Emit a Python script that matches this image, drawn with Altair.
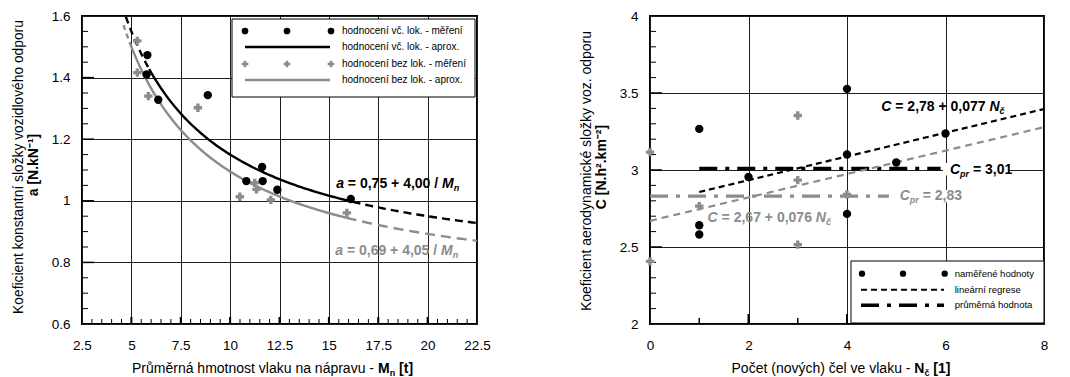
import altair as alt
import numpy as np
import pandas as pd

# ---------------- data: left panel ----------------
lok_mn = [5.81, 5.77, 6.36, 8.87, 10.82, 11.62, 11.65, 12.39, 16.11]
lok_a = [1.473, 1.410, 1.328, 1.343, 1.064, 1.110, 1.064, 1.036, 1.006]
bez_mn = [5.30, 5.30, 5.86, 8.37, 10.49, 11.25, 11.33, 12.06, 15.91]
bez_a = [1.519, 1.416, 1.340, 1.302, 1.013, 1.058, 1.037, 1.003, 0.961]
fit_lok = [0.75, 4.00]          # a = c0 + c1 / Mn
fit_bez = [0.69, 4.05]
lok_range = [4.72, 5.9, 16.2, 22.5]   # dashed | solid | dashed
bez_range = [4.60, 5.0, 15.9, 22.5]
left_x_ticks = [2.5, 5, 7.5, 10, 12.5, 15, 17.5, 20, 22.5]
left_y_ticks = [0.6, 0.8, 1.0, 1.2, 1.4, 1.6]
left_legend = ["hodnocení vč. lok. - měření", "hodnocení vč. lok. - aprox.",
               "hodnocení bez lok. - měření", "hodnocení bez lok. - aprox."]

# ---------------- data: right panel ----------------
nc_lok = [1, 1, 1, 2, 4, 4, 4, 5, 6]
c_lok = [3.267, 2.641, 2.581, 2.955, 3.527, 3.101, 2.715, 3.049, 3.237]
nc_bez = [0, 0, 1, 3, 3, 3, 4]
c_bez = [3.116, 2.407, 2.765, 3.354, 2.934, 2.515, 2.841]
reg_lok = [2.78, 0.077]          # C = c0 + c1 * Nc
reg_bez = [2.67, 0.076]
reg_lok_range = [1, 8]
reg_bez_range = [0, 8]
mean_lok = 3.01
mean_bez = 2.83
mean_lok_range = [1, 5.9]
mean_bez_range = [0, 4.85]
right_x_ticks = [0, 2, 4, 6, 8]
right_y_ticks = [2, 2.5, 3, 3.5, 4]
right_legend = ["naměřené hodnoty", "lineární regrese", "průměrná hodnota"]

# ---------------- styling ----------------
BLACK = "#000000"
GRAY = "#8c8c8c"
GRID = "#1e1e1e"
FONT = "Liberation Sans"
LW, LH = 395, 308
RW, RH = 394, 308
one = pd.DataFrame({"k": [0]})

W_REG = {" ": 278, ",": 278, ".": 278, "=": 584, "+": 584, "/": 278, "-": 333,
         "[": 278, "]": 278, "a": 556, "c": 500, "č": 500, "n": 556, "p": 556,
         "r": 333, "t": 278, "M": 833, "C": 722, "N": 722}
W_BOLD = {" ": 278, ",": 278, ".": 278, "=": 584, "+": 584, "/": 278, "-": 333,
          "[": 333, "]": 333, "a": 556, "c": 556, "č": 556, "n": 611, "p": 611,
          "r": 389, "t": 333, "M": 833, "C": 722, "N": 722}


def tw(s, size, bold):
    tbl = W_BOLD if bold else W_REG
    return sum(tbl.get(ch, 556) for ch in s) / 1000.0 * size


def axis(values, lp):
    return alt.Axis(values=values, format=".1~f", title=None, grid=True,
                    gridColor=GRID, gridWidth=1, ticks=False, tickSize=0,
                    domain=False, labelFont=FONT, labelFontSize=13.5,
                    labelColor=BLACK, labelPadding=lp, labelFlush=False,
                    labelOverlap=False)


class Panel:
    def __init__(self, xdom, ydom, xvals, yvals, H):
        self.xs = alt.Scale(domain=xdom, nice=False, zero=False)
        self.ys = alt.Scale(domain=ydom, nice=False, zero=False)
        self.xa = axis(xvals, 14)
        self.ya = axis(yvals, 12)
        self.H = H

    def X(self, f="x:Q"):
        return alt.X(f, scale=self.xs, axis=self.xa)

    def Y(self, f="y:Q"):
        return alt.Y(f, scale=self.ys, axis=self.ya)

    def XD(self, v):
        return alt.XDatum(v, scale=self.xs, axis=self.xa)

    def YD(self, v):
        return alt.YDatum(v, scale=self.ys, axis=self.ya)

    def pts(self, xv, yv, shape, color, size):
        df = pd.DataFrame({"x": xv, "y": yv})
        return alt.Chart(df).mark_point(shape=shape, filled=True, color=color,
                                        size=size, opacity=1, strokeWidth=0).encode(
            x=self.X(), y=self.Y())

    def line(self, df, color, width, dash=None):
        kw = dict(color=color, strokeWidth=width, clip=True)
        if dash:
            kw["strokeDash"] = dash
        return alt.Chart(df).mark_line(**kw).encode(x=self.X(), y=self.Y())

    def xticks(self, vals, length, width):
        df = pd.DataFrame({"x": vals})
        return alt.Chart(df).mark_rule(color=BLACK, strokeWidth=width).encode(
            x=self.X(), y=alt.value(self.H), y2=alt.value(self.H - length))

    def yticks(self, vals, length, width):
        df = pd.DataFrame({"y": vals})
        return alt.Chart(df).mark_rule(color=BLACK, strokeWidth=width).encode(
            y=self.Y(), x=alt.value(0), x2=alt.value(length))

    def bg(self, x1, x2, y1, y2):
        return alt.Chart(one).mark_rect(fill="white").encode(
            x=self.XD(x1), x2=alt.X2Datum(x2), y=self.YD(y1), y2=alt.Y2Datum(y2))


def rich(segs, x, y, anchor="left"):
    """segs: (text, size, bold, italic, dy, color)"""
    widths = [tw(t, s, b) for (t, s, b, it, dy, c) in segs]
    off = -sum(widths) if anchor == "right" else 0.0
    out = []
    for (t, s, b, it, dy, c), w in zip(segs, widths):
        lead = len(t) - len(t.lstrip(" "))
        txt = t.strip(" ")
        d = off + tw(" " * lead, s, b)
        out.append(
            alt.Chart(one).mark_text(
                text=txt, align="left", baseline="middle", dx=d, dy=dy,
                font=FONT, fontSize=s, fontWeight="bold" if b else "normal",
                fontStyle="italic" if it else "normal", color=c,
            ).encode(x=x, y=y)
        )
        off += w
    return out


def hyper(coef, x0, x1, n=80):
    m = np.linspace(x0, x1, n)
    return pd.DataFrame({"x": m, "y": coef[0] + coef[1] / m})


def linear(coef, x0, x1):
    m = np.array([x0, x1], dtype=float)
    return pd.DataFrame({"x": m, "y": coef[0] + coef[1] * m})


def vtext(txt, x, y, size, bold, angle=0, align="center", color=BLACK):
    return alt.Chart(one).mark_text(
        text=txt, angle=angle, align=align, baseline="middle", font=FONT,
        fontSize=size, fontWeight="bold" if bold else "normal", color=color,
    ).encode(x=alt.value(x), y=alt.value(y))


def vpoint(x, y, shape, color, size):
    return alt.Chart(one).mark_point(shape=shape, filled=True, color=color, size=size,
                                     opacity=1, strokeWidth=0).encode(
        x=alt.value(x), y=alt.value(y))


def vrule(x1, x2, y, color, width, dash=None):
    kw = dict(color=color, strokeWidth=width)
    if dash:
        kw["strokeDash"] = dash
    return alt.Chart(one).mark_rule(**kw).encode(
        x=alt.value(x1), x2=alt.value(x2), y=alt.value(y))


def vbox(x1, x2, y1, y2):
    return alt.Chart(one).mark_rect(fill="white", stroke=BLACK, strokeWidth=1).encode(
        x=alt.value(x1), x2=alt.value(x2), y=alt.value(y1), y2=alt.value(y2))


# ================= LEFT PANEL =================
L = Panel([2.5, 22.5], [0.6, 1.6], left_x_ticks, left_y_ticks, LH)

lx_minor = [float(v) for v in np.arange(3.0, 22.01, 0.5) if abs(v / 2.5 - round(v / 2.5)) > 1e-6]
lx_major = [5, 7.5, 10, 12.5, 15, 17.5, 20]
ly_minor = [round(float(v), 2) for v in np.arange(0.65, 1.6, 0.05) if abs(v / 0.2 - round(v / 0.2)) > 1e-6]
ly_major = [0.8, 1.0, 1.2, 1.4]

left_layers = [
    L.xticks(lx_minor, 5, 1),
    L.xticks(lx_major, 7, 2),
    L.yticks(ly_minor, 6, 1),
    L.yticks(ly_major, 12, 1.5),
    L.line(hyper(fit_bez, bez_range[0], bez_range[1]), GRAY, 2.4, [5, 4]),
    L.line(hyper(fit_bez, bez_range[1], bez_range[2]), GRAY, 2.4),
    L.line(hyper(fit_bez, bez_range[2], bez_range[3]), GRAY, 2.4, [10, 6]),
    L.line(hyper(fit_lok, lok_range[0], lok_range[1]), BLACK, 2.4, [7, 5]),
    L.line(hyper(fit_lok, lok_range[1], lok_range[2]), BLACK, 2.4),
    L.line(hyper(fit_lok, lok_range[2], lok_range[3]), BLACK, 2.4, [8, 5]),
    L.pts(bez_mn, bez_a, "cross", GRAY, 70),
    L.pts(lok_mn, lok_a, "circle", BLACK, 70),
    # legend
    vbox(150, 393, 3, 81),
    vpoint(163, 15, "circle", BLACK, 45), vpoint(205, 15, "circle", BLACK, 45),
    vpoint(249, 15, "circle", BLACK, 45),
    vrule(163, 248, 31, BLACK, 2.4),
    vpoint(163, 48, "cross", GRAY, 45), vpoint(205, 48, "cross", GRAY, 45),
    vpoint(249, 48, "cross", GRAY, 45),
    vrule(163, 248, 64, GRAY, 2.4),
    vtext(left_legend[0], 260, 15, 10, False, align="left"),
    vtext(left_legend[1], 260, 31, 10, False, align="left"),
    vtext(left_legend[2], 260, 48, 10, False, align="left"),
    vtext(left_legend[3], 260, 64, 10, False, align="left"),
    # axis titles
    vtext("Koeficient konstantní složky vozidlového odporu", -63, 151, 13.8, False, angle=270),
    vtext("a [N.kN⁻¹]", -48, 149, 14, True, angle=270),
    vtext("Průměrná hmotnost vlaku na nápravu -", 292, 353, 14, False, align="right"),
]
left_layers += rich([("M", 14, True, False, 0, BLACK), ("n", 9, True, False, 4, BLACK),
                     (" [t]", 14, True, False, 0, BLACK)],
                    alt.value(296), alt.value(353))
left_layers += rich([("a", 14, True, True, 0, BLACK), (" = 0,75 + 4,00 / ", 14, True, False, 0, BLACK),
                     ("M", 14, True, True, 0, BLACK), ("n", 9, True, True, 4, BLACK)],
                    L.XD(21.6), L.YD(1.055), anchor="right")
left_layers += rich([("a", 14, True, True, 0, GRAY), (" = 0,69 + 4,05 / ", 14, True, False, 0, GRAY),
                     ("M", 14, True, True, 0, GRAY), ("n", 9, True, True, 4, GRAY)],
                    L.XD(21.55), L.YD(0.836), anchor="right")

left = alt.layer(*left_layers).properties(width=LW, height=LH)

# ================= RIGHT PANEL =================
R = Panel([0, 8], [2, 4], right_x_ticks, right_y_ticks, RH)

rx_minor = [1, 3, 5, 7]
rx_major = [2, 4, 6]
ry_minor = [round(float(v), 1) for v in np.arange(2.1, 4.0, 0.1) if abs(v * 2 - round(v * 2)) > 1e-6]
ry_major = [2.5, 3.0, 3.5]

mean_lok_df = pd.DataFrame({"x": mean_lok_range, "y": [mean_lok, mean_lok]})
mean_bez_df = pd.DataFrame({"x": mean_bez_range, "y": [mean_bez, mean_bez]})

right_layers = [
    R.xticks(rx_minor, 6, 1.5),
    R.xticks(rx_major, 10, 2),
    R.yticks(ry_minor, 6, 1),
    R.yticks(ry_major, 12, 1.5),
    R.line(mean_bez_df, GRAY, 3.2, [18, 8, 4, 8]),
    R.line(mean_lok_df, BLACK, 3.5, [18, 8, 4, 8]),
    R.line(linear(reg_bez, *reg_bez_range), GRAY, 2.2, [7, 5]),
    R.line(linear(reg_lok, *reg_lok_range), BLACK, 2.2, [6, 4]),
    R.pts(nc_bez, c_bez, "cross", GRAY, 70),
    R.pts(nc_lok, c_lok, "circle", BLACK, 70),
    R.bg(5.95, 7.3, 2.965, 3.045),
    R.bg(5.02, 6.35, 2.79, 2.87),
    # legend
    vbox(201, 394, 245, 307),
    vpoint(212, 257.7, "circle", BLACK, 40), vpoint(253, 257.7, "circle", BLACK, 40),
    vpoint(294.7, 257.7, "circle", BLACK, 40),
    vrule(211, 294, 273.7, BLACK, 2, [6, 4]),
    vrule(211, 294, 289.3, BLACK, 3.5, [18, 8, 4, 8]),
    vtext(right_legend[0], 304.7, 257.7, 9.5, False, align="left"),
    vtext(right_legend[1], 304.7, 273.7, 9.5, False, align="left"),
    vtext(right_legend[2], 304.7, 289.3, 9.5, False, align="left"),
    # axis titles
    vtext("Koeficient aerodynamické složky voz. odporu", -63, 155, 14, False, angle=270),
    vtext("C [N.h².km⁻²]", -48, 151, 14, True, angle=270),
    vtext("Počet (nových) čel ve vlaku -", 260.5, 352.7, 14, False, align="right"),
]
right_layers += rich([("N", 14, True, False, 0, BLACK), ("č", 9, True, False, 4, BLACK),
                      (" [1]", 14, True, False, 0, BLACK)],
                     alt.value(264.3), alt.value(352.7))
right_layers += rich([("C", 14, True, True, 0, BLACK), (" = 2,78 + 0,077 ", 14, True, False, 0, BLACK),
                      ("N", 14, True, True, 0, BLACK), ("č", 9, True, True, 4, BLACK)],
                     R.XD(7.2), R.YD(3.408), anchor="right")
right_layers += rich([("C", 14, True, True, 0, GRAY), (" = 2,67 + 0,076 ", 14, True, False, 0, GRAY),
                      ("N", 14, True, True, 0, GRAY), ("č", 9, True, True, 4, GRAY)],
                     R.XD(1.17), R.YD(2.69))
right_layers += rich([("C", 14, True, True, 0, BLACK), ("pr", 9, True, True, 4, BLACK),
                      (" = 3,01", 14, True, False, 0, BLACK)],
                     R.XD(6.09), R.YD(3.003))
right_layers += rich([("C", 14, True, True, 0, GRAY), ("pr", 9, True, True, 4, GRAY),
                      (" = 2,83", 14, True, False, 0, GRAY)],
                     R.XD(5.07), R.YD(2.83))

right = alt.layer(*right_layers).properties(width=RW, height=RH)

chart = alt.hconcat(left, right, spacing=173, bounds="flush").configure_view(
    stroke=BLACK, strokeWidth=2
).properties(padding={"left": 2, "top": 0, "right": 0, "bottom": 0})

chart.save("out.html", embed_options={"renderer": "svg", "actions": False})
